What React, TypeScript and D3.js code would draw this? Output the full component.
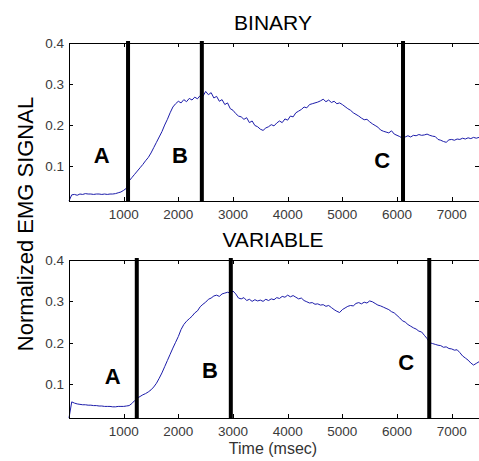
import React from 'react'
import * as d3 from 'd3'

// time axis shared by both panels, one sample every 50 ms
const timeStep = 50
const binarySignal = [
  0.015, 0.030, 0.031, 0.029, 0.032, 0.031, 0.033, 0.032, 0.032, 0.031,
  0.032, 0.032, 0.031, 0.032, 0.031, 0.032, 0.032, 0.033, 0.035, 0.037,
  0.041, 0.046, 0.064, 0.072, 0.080, 0.088, 0.096, 0.104, 0.113, 0.121,
  0.132, 0.145, 0.158, 0.171, 0.184, 0.200, 0.214, 0.230, 0.244, 0.252,
  0.258, 0.254, 0.262, 0.257, 0.265, 0.261, 0.268, 0.264, 0.272, 0.270,
  0.282, 0.274, 0.279, 0.266, 0.270, 0.258, 0.262, 0.250, 0.254, 0.240,
  0.236, 0.228, 0.222, 0.220, 0.214, 0.218, 0.206, 0.210, 0.199, 0.196,
  0.190, 0.187, 0.193, 0.196, 0.201, 0.198, 0.205, 0.210, 0.206, 0.215,
  0.212, 0.222, 0.220, 0.230, 0.234, 0.238, 0.244, 0.242, 0.250, 0.252,
  0.254, 0.256, 0.259, 0.263, 0.257, 0.261, 0.255, 0.258, 0.252, 0.254,
  0.250, 0.245, 0.240, 0.236, 0.230, 0.226, 0.222, 0.217, 0.213, 0.214,
  0.208, 0.203, 0.199, 0.195, 0.188, 0.185, 0.183, 0.181, 0.186, 0.178,
  0.175, 0.172, 0.168, 0.171, 0.174, 0.171, 0.175, 0.174, 0.177, 0.175,
  0.176, 0.178, 0.175, 0.173, 0.172, 0.165, 0.163, 0.160, 0.158, 0.164,
  0.165, 0.163, 0.166, 0.165, 0.168, 0.166, 0.169, 0.167, 0.170, 0.168,
  0.170,
]
const variableSignal = [
  0.018, 0.057, 0.054, 0.052, 0.051, 0.050, 0.050, 0.049, 0.049, 0.048,
  0.048, 0.047, 0.047, 0.046, 0.046, 0.046, 0.045, 0.045, 0.046, 0.046,
  0.046, 0.047, 0.048, 0.053, 0.060, 0.066, 0.070, 0.074, 0.077, 0.081,
  0.086, 0.093, 0.102, 0.114, 0.127, 0.142, 0.157, 0.172, 0.187, 0.201,
  0.215, 0.232, 0.244, 0.252, 0.258, 0.264, 0.272, 0.277, 0.287, 0.293,
  0.298, 0.305, 0.308, 0.313, 0.315, 0.312, 0.318, 0.320, 0.322, 0.320,
  0.325, 0.318, 0.308, 0.306, 0.309, 0.302, 0.305, 0.300, 0.304, 0.301,
  0.303, 0.300, 0.305, 0.302, 0.306, 0.304, 0.309, 0.307, 0.312, 0.310,
  0.315, 0.311, 0.314, 0.310, 0.306, 0.308, 0.302, 0.299, 0.296, 0.297,
  0.293, 0.294, 0.291, 0.292, 0.288, 0.290, 0.285, 0.280, 0.276, 0.273,
  0.280, 0.284, 0.288, 0.290, 0.289, 0.295, 0.297, 0.294, 0.298, 0.296,
  0.301, 0.299, 0.295, 0.291, 0.289, 0.286, 0.283, 0.280, 0.275, 0.272,
  0.266, 0.260, 0.253, 0.250, 0.244, 0.240, 0.236, 0.233, 0.228, 0.226,
  0.218, 0.210, 0.200, 0.198, 0.196, 0.194, 0.193, 0.189, 0.190, 0.186,
  0.185, 0.182, 0.183, 0.176, 0.168, 0.163, 0.158, 0.151, 0.146, 0.150,
  0.154,
]

// phase boundaries (ms) and phase labels
const binaryBounds = [1080, 2430, 6110]
const variableBounds = [1240, 2960, 6590]
const phaseNames = ['A', 'B', 'C']
const binaryLabelAt = [[600, 0.107], [2030, 0.107], [5730, 0.095]]
const variableLabelAt = [[800, 0.100], [2580, 0.114], [6170, 0.134]]

const xTicks = [1000, 2000, 3000, 4000, 5000, 6000, 7000]
const yTicks = [0.1, 0.2, 0.3, 0.4]
const xMax = 7500
const yMax = 0.4

const W = 479, H = 461
const left = 69, right = 479
const font = 'Liberation Sans, Arial, Helvetica, sans-serif'
const lineColor = '#1c1caa'

function Panel({values, bounds, labelAt, title, top, bottom}: any) {
  const x = d3.scaleLinear().domain([0, xMax]).range([left, right])
  const y = d3.scaleLinear().domain([d3.min(values) as number, yMax]).range([bottom, top])
  const line = d3.line<number>()
    .x((d, i) => x(i * timeStep))
    .y(d => y(d))
  const tk = 4

  return (
    <g>
      <text x={(left + right) / 2 - 1} y={top - 13} textAnchor='middle'
        fontFamily={font} fontSize={21} fill='#000'>{title}</text>
      <path d={line(values) || ''} fill='none' stroke={lineColor} strokeWidth={1} />
      {bounds.map((b: number, i: number) => (
        <line key={i} x1={x(b)} x2={x(b)} y1={top - 2} y2={bottom}
          stroke='#000' strokeWidth={4} />
      ))}
      {labelAt.map((p: number[], i: number) => (
        <text key={i} x={x(p[0])} y={y(p[1])} textAnchor='middle'
          fontFamily={font} fontWeight='bold' fontSize={22} fill='#000'>{phaseNames[i]}</text>
      ))}
      <rect x={left + 0.5} y={top + 0.5} width={right - left + 2} height={bottom - top}
        fill='none' stroke='#000' strokeWidth={1} />
      {xTicks.map(t => (
        <g key={t}>
          <line x1={Math.round(x(t)) + 0.5} x2={Math.round(x(t)) + 0.5} y1={bottom} y2={bottom - tk} stroke='#000' />
          <line x1={Math.round(x(t)) + 0.5} x2={Math.round(x(t)) + 0.5} y1={top} y2={top + tk} stroke='#000' />
          <text x={x(t)} y={bottom + 18} textAnchor='middle' fontFamily={font}
            fontSize={13.5} fill='#3a3a3a'>{t}</text>
        </g>
      ))}
      {yTicks.map(t => (
        <g key={t}>
          <line x1={left} x2={left + tk} y1={Math.round(y(t)) + 0.5} y2={Math.round(y(t)) + 0.5} stroke='#000' />
          <line x1={right} x2={right - tk} y1={Math.round(y(t)) + 0.5} y2={Math.round(y(t)) + 0.5} stroke='#000' />
          <text x={left - 5} y={y(t) + 5} textAnchor='end' fontFamily={font}
            fontSize={13.5} fill='#3a3a3a'>{t.toFixed(1)}</text>
        </g>
      ))}
    </g>
  )
}

export default function App() {
  return (
    <svg width={W} height={H} style={{position: 'absolute', left: 0, top: 0, background: '#fff'}}>
      <rect width={W} height={H} fill='#fff' />
      <Panel values={binarySignal} bounds={binaryBounds} labelAt={binaryLabelAt}
        title='BINARY' top={43} bottom={201} />
      <Panel values={variableSignal} bounds={variableBounds} labelAt={variableLabelAt}
        title='VARIABLE' top={260} bottom={418} />
      <text transform='translate(33,224) rotate(-90)' textAnchor='middle'
        fontFamily={font} fontSize={22} fill='#000'>Normalized EMG SIGNAL</text>
      <text x={273} y={454} textAnchor='middle' fontFamily={font}
        fontSize={16} fill='#333'>Time (msec)</text>
    </svg>
  )
}
